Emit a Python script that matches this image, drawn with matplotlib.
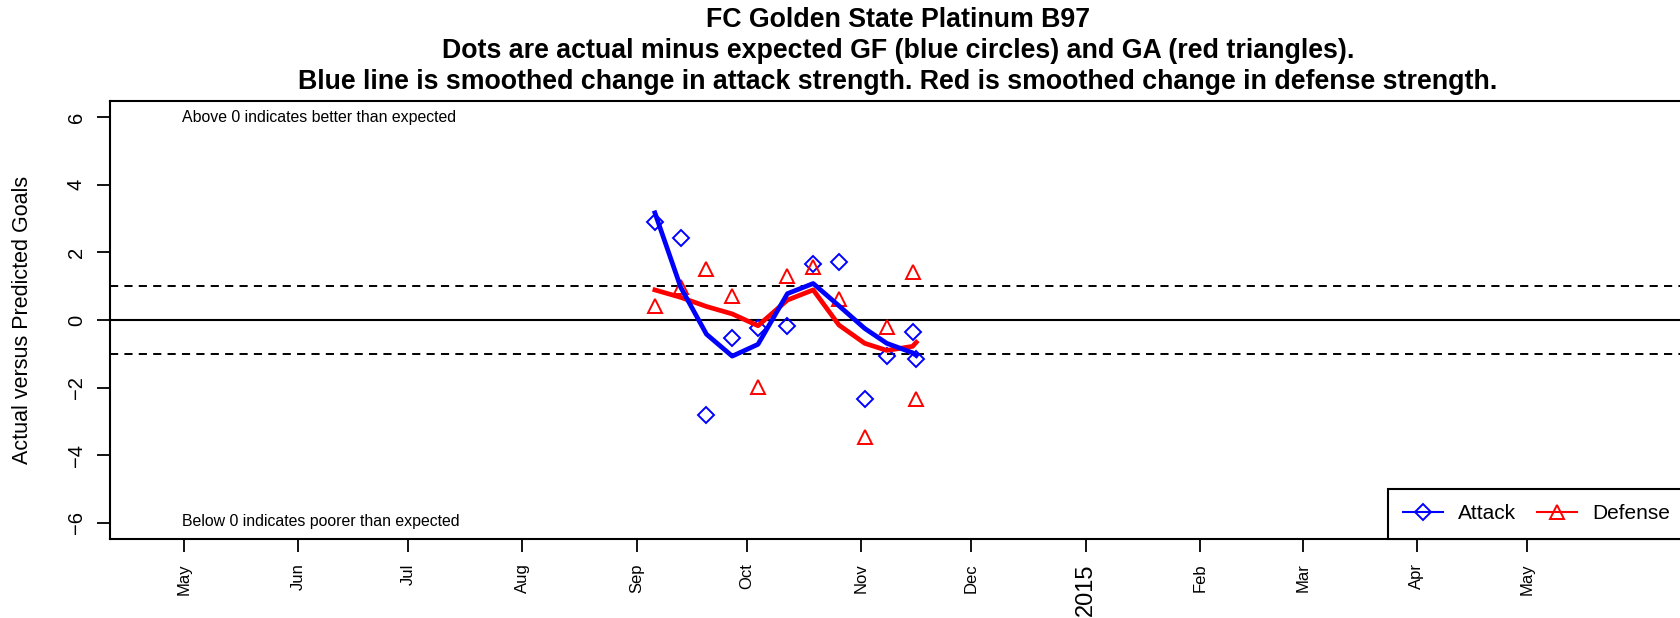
import datetime as dt
import matplotlib
matplotlib.use('Agg')
import matplotlib.pyplot as plt

plt.rcParams['font.family'] = ['Liberation Sans', 'DejaVu Sans']

# game dates and actual-minus-expected goals
game_dates = ['2014-09-06', '2014-09-13', '2014-09-20', '2014-09-27',
              '2014-10-04', '2014-10-12', '2014-10-19', '2014-10-26',
              '2014-11-02', '2014-11-08', '2014-11-15', '2014-11-16']
attack_resid = [2.90, 2.44, -2.82, -0.54, -0.25, -0.18,
                1.65, 1.73, -2.35, -1.06, -0.36, -1.16]
defense_resid = [0.42, 0.97, 1.50, 0.72, -1.99, 1.29,
                 1.56, 0.61, -3.46, -0.20, 1.42, -2.33]
# smoothed change in strength
attack_smooth = [3.17, 0.97, -0.42, -1.07, -0.72, 0.78,
                 1.08, 0.42, -0.25, -0.69, -0.97, -1.05]
defense_smooth = [0.89, 0.67, 0.40, 0.18, -0.17, 0.59,
                  0.89, -0.15, -0.69, -0.90, -0.78, -0.66]

month_ticks = ['2014-05-01', '2014-06-01', '2014-07-01', '2014-08-01',
               '2014-09-01', '2014-10-01', '2014-11-01', '2014-12-01',
               '2015-01-01', '2015-02-01', '2015-03-01', '2015-04-01',
               '2015-05-01']
month_labels = ['May', 'Jun', 'Jul', 'Aug', 'Sep', 'Oct', 'Nov', 'Dec',
                '2015', 'Feb', 'Mar', 'Apr', 'May']
y_ticks = [-6, -4, -2, 0, 2, 4, 6]

title_lines = ['FC Golden State Platinum B97',
               'Dots are actual minus expected GF (blue circles) and GA (red triangles).',
               'Blue line is smoothed change in attack strength. Red is smoothed change in defense strength.']


def to_date(s):
    return dt.datetime.strptime(s, '%Y-%m-%d')


x = [to_date(d) for d in game_dates]
xt = [to_date(d) for d in month_ticks]

W, H = 1680, 618
fig = plt.figure(figsize=(W / 100, H / 100), dpi=100)
# plot region runs a bit past the right edge of the picture
ax = fig.add_axes([110 / W, 1 - 539 / H, (1686 - 110) / W, (539 - 101) / H])

ax.axhline(0, color='black', lw=1.5, zorder=1)
for yy in (1, -1):
    ax.axhline(yy, color='black', lw=1.4, dashes=(4.2, 3.2), zorder=1)

ax.plot(x, attack_resid, linestyle='none', marker='D', ms=8.5, mfc='none',
        mec='blue', mew=1.4, zorder=3)
ax.plot(x, defense_resid, linestyle='none', marker='^', ms=9.5, mfc='none',
        mec='red', mew=1.4, zorder=3)
ax.plot(x, defense_smooth, color='red', lw=3.4, zorder=4)
ax.plot(x, attack_smooth, color='blue', lw=3.4, zorder=5)

ax.set_xlim(dt.datetime(2014, 4, 10, 23), dt.datetime(2015, 6, 13, 3))
ax.set_ylim(-6.48, 6.48)

ax.set_yticks(y_ticks)
ax.set_yticklabels([str(v).replace('-', '\u2212') for v in y_ticks],
                   rotation=90, va='center', fontsize=14.5)
ax.set_xticks(xt)
ax.set_xticklabels(month_labels, rotation=90, fontsize=12)
for lab in ax.get_xticklabels():
    if lab.get_text() == '2015':
        lab.set_fontsize(17)
ax.tick_params(axis='both', direction='out', length=9.4, width=1.3)
ax.tick_params(axis='y', pad=8)
ax.tick_params(axis='x', pad=8)
for sp in ax.spines.values():
    sp.set_linewidth(1.5)

ax.set_ylabel('Actual versus Predicted Goals', fontsize=15.5, labelpad=24)

ax.text(dt.datetime(2014, 4, 30, 12), 6, 'Above 0 indicates better than expected',
        ha='left', va='center', fontsize=11.4)
ax.text(dt.datetime(2014, 4, 30, 12), -5.95, 'Below 0 indicates poorer than expected',
        ha='left', va='center', fontsize=11.4)

h1, = ax.plot([], [], color='blue', lw=1.5, marker='D', ms=8.5, mfc='none',
              mec='blue', mew=1.4)
h2, = ax.plot([], [], color='red', lw=1.5, marker='^', ms=9.5, mfc='none',
              mec='red', mew=1.4)
leg = ax.legend([h1, h2], ['Attack', 'Defense'], ncol=2, loc='lower right',
                bbox_to_anchor=(1, 0), borderaxespad=0, fontsize=15,
                fancybox=False, framealpha=1, edgecolor='black',
                handlelength=1.9, handletextpad=0.75, columnspacing=1.0,
                borderpad=0.75, numpoints=1)
leg.get_frame().set_linewidth(1.5)

# main title, centred on the plot region
for i, line in enumerate(title_lines):
    fig.text(898 / W, 1 - (20 + 31 * i) / H, line, ha='center',
             va='center', fontsize=19.3, fontweight='bold')

fig.savefig('out.png', dpi=100)
